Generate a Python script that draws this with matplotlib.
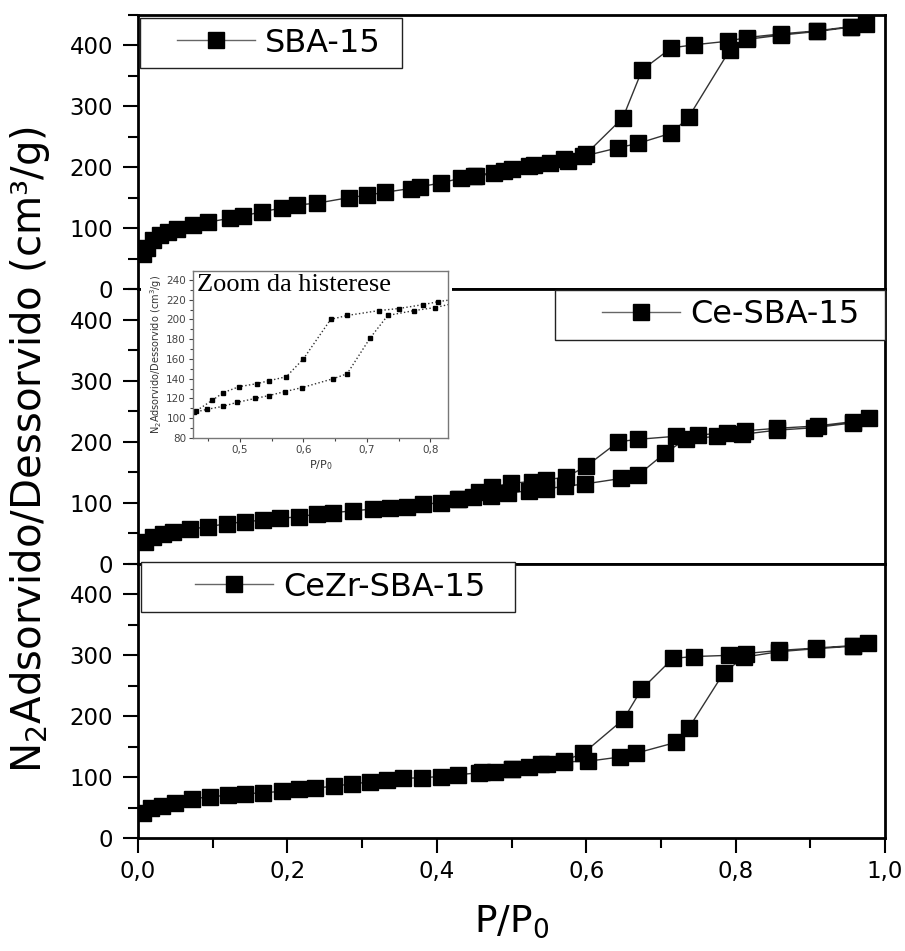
import matplotlib
matplotlib.use("Agg")
import matplotlib.pyplot as plt
from matplotlib.patches import Rectangle
from matplotlib.ticker import MultipleLocator

# SBA-15 : adsorption branch then desorption branch
sba_ads_x = [0.007, 0.012, 0.02, 0.029, 0.04, 0.052, 0.074, 0.094, 0.123, 0.141, 0.166, 0.193, 0.213,
             0.24, 0.282, 0.307, 0.331, 0.365, 0.378, 0.405, 0.432, 0.452, 0.476, 0.501, 0.524, 0.552,
             0.576, 0.596, 0.643, 0.669, 0.714, 0.737, 0.792, 0.815, 0.861, 0.909, 0.954, 0.974]
sba_ads_y = [58, 68, 80, 88, 94, 98, 105, 110, 116, 120, 127, 133, 138,
             141, 150, 154, 159, 165, 168, 174, 182, 185, 190, 197, 202, 207,
             211, 218, 232, 239, 256, 282, 392, 410, 417, 423, 430, 436]
sba_des_x = [0.954, 0.909, 0.861, 0.815, 0.79, 0.744, 0.714, 0.675, 0.649, 0.6, 0.57, 0.53, 0.49, 0.45]
sba_des_y = [431, 424, 419, 413, 407, 401, 396, 360, 281, 222, 213, 204, 194, 186]

# Ce-SBA-15
ce_ads_x = [0.009, 0.02, 0.034, 0.047, 0.07, 0.094, 0.119, 0.143, 0.168, 0.19, 0.215, 0.24, 0.261,
            0.288, 0.315, 0.338, 0.36, 0.382, 0.405, 0.428, 0.448, 0.473, 0.495, 0.524, 0.546, 0.571,
            0.598, 0.647, 0.669, 0.705, 0.733, 0.775, 0.808, 0.855, 0.905, 0.957, 0.979]
ce_ads_y = [36, 44, 49, 53, 57, 61, 66, 69, 72, 75, 77, 82, 84,
            87, 90, 92, 93, 98, 100, 106, 109, 112, 116, 120, 123, 127,
            131, 140, 145, 181, 204, 209, 212, 219, 223, 231, 239]
ce_des_x = [0.957, 0.91, 0.855, 0.813, 0.789, 0.75, 0.72, 0.669, 0.643, 0.6, 0.573, 0.546, 0.527,
            0.499, 0.474, 0.456, 0.43]
ce_des_y = [233, 226, 222, 218, 215, 211, 209, 204, 200, 160, 142, 138, 135,
            132, 126, 118, 107]

# CeZr-SBA-15
cz_ads_x = [0.007, 0.018, 0.032, 0.05, 0.072, 0.097, 0.121, 0.143, 0.168, 0.193, 0.215, 0.237, 0.262,
            0.287, 0.311, 0.333, 0.355, 0.38, 0.405, 0.429, 0.456, 0.478, 0.5, 0.524, 0.547, 0.57,
            0.602, 0.645, 0.666, 0.72, 0.737, 0.784, 0.811, 0.858, 0.908, 0.957, 0.977]
cz_ads_y = [41, 49, 53, 57, 64, 68, 70, 73, 74, 77, 80, 82, 85,
            89, 92, 95, 98, 99, 101, 104, 107, 109, 113, 117, 121, 125,
            126, 133, 139, 157, 180, 271, 297, 306, 311, 315, 320]
cz_des_x = [0.957, 0.908, 0.858, 0.814, 0.791, 0.744, 0.716, 0.674, 0.65, 0.596, 0.57, 0.54, 0.5, 0.46]
cz_des_y = [316, 312, 308, 303, 300, 298, 295, 244, 195, 139, 127, 122, 114, 108]

labels = ["SBA-15", "Ce-SBA-15", "CeZr-SBA-15"]
x_ticks = [0.0, 0.2, 0.4, 0.6, 0.8, 1.0]
x_ticklabels = ["0,0", "0,2", "0,4", "0,6", "0,8", "1,0"]
y_ticks = [0, 100, 200, 300, 400]
inset_x_ticks = [0.5, 0.6, 0.7, 0.8]
inset_x_ticklabels = ["0,5", "0,6", "0,7", "0,8"]
inset_y_ticks = [80, 100, 120, 140, 160, 180, 200, 220, 240]

plt.rcParams['font.family'] = ['DejaVu Sans']

W, H = 905, 951
fig = plt.figure(figsize=(W / 100, H / 100), dpi=100)


def fx(px):
    return px / W


def fy(py):
    return 1 - py / H


def rect(x0, y0, x1, y1):
    return [fx(x0), fy(y1), fx(x1) - fx(x0), fy(y0) - fy(y1)]


# panels: (top px, bottom px), legend handle start / centre, legend frame box
panels = [(15, 289), (289, 564), (564, 838)]
leg_anchor = [(177, 43), (602, 315), (195, 587)]
leg_frame = [(140, 18, 402, 68), (555, 290, 885, 340), (141, 562, 515, 612)]
series = [(sba_ads_x + sba_des_x, sba_ads_y + sba_des_y),
          (ce_ads_x + ce_des_x, ce_ads_y + ce_des_y),
          (cz_ads_x + cz_des_x, cz_ads_y + cz_des_y)]

axes = []
for i, (t, b) in enumerate(panels):
    ax = fig.add_axes(rect(138, t, 885, b), zorder=0)
    xs, ys = series[i]
    ax.plot(xs, ys, color='#333333', lw=1, marker='s', ms=11,
            mfc='black', mec='black', label=labels[i])
    ax.set_xlim(0, 1.0)
    ax.set_ylim(0, 450)
    ax.set_yticks(y_ticks)
    ax.yaxis.set_minor_locator(MultipleLocator(50))
    ax.tick_params(axis='y', which='major', direction='out', length=11, width=1.5,
                   labelsize=16.5, pad=7, right=False)
    ax.tick_params(axis='y', which='minor', direction='out', length=7, width=1.5, right=False)
    for s in ax.spines.values():
        s.set_linewidth(2)
    if i < 2:
        ax.tick_params(axis='x', which='both', bottom=False, labelbottom=False)
    else:
        ax.set_xticks(x_ticks)
        ax.set_xticklabels(x_ticklabels)
        ax.xaxis.set_minor_locator(MultipleLocator(0.1))
        ax.tick_params(axis='x', which='major', direction='out', length=11, width=1.5,
                       labelsize=16.5, pad=5, top=False)
        ax.tick_params(axis='x', which='minor', direction='out', length=7, width=1.5, top=False)
    x0, y0, x1, y1 = leg_frame[i]
    ax.add_patch(Rectangle((fx(x0), fy(y1)), fx(x1) - fx(x0), fy(y0) - fy(y1),
                           transform=fig.transFigure, facecolor='white', edgecolor='#222222',
                           lw=1, zorder=4, clip_on=False))
    leg = ax.legend(loc='center left', bbox_to_anchor=(fx(leg_anchor[i][0]), fy(leg_anchor[i][1])),
                    bbox_transform=fig.transFigure, frameon=False, borderpad=0, borderaxespad=0,
                    handlelength=2.44, handletextpad=0.31, fontsize=23)
    leg.get_lines()[0].set_color('#666666')
    leg.get_lines()[0].set_markerfacecolor('black')
    leg.get_lines()[0].set_markeredgecolor('black')
    axes.append(ax)

fig.text(fx(30), fy(450), "N$_2$Adsorvido/Dessorvido (cm³/g)", rotation=90,
         ha='center', va='center', fontsize=29)
fig.text(fx(512), fy(922), "P/P$_0$", ha='center', va='center', fontsize=27)

# white backing of the inset picture
fig.add_artist(Rectangle((fx(141), fy(480)), fx(452) - fx(141), fy(268) - fy(480),
                         transform=fig.transFigure, facecolor='white', edgecolor='none', zorder=1))

axi = fig.add_axes(rect(193, 271, 448, 438), zorder=2)
axi.plot(ce_ads_x + ce_des_x, ce_ads_y + ce_des_y, ls=':', color='#333333', lw=1,
         marker='s', ms=3.5, mfc='black', mec='black')
axi.set_xlim(0.426, 0.828)
axi.set_ylim(80, 249)
axi.set_xticks(inset_x_ticks)
axi.set_xticklabels(inset_x_ticklabels)
axi.set_yticks(inset_y_ticks)
axi.xaxis.set_minor_locator(MultipleLocator(0.05))
axi.yaxis.set_minor_locator(MultipleLocator(10))
axi.tick_params(which='major', direction='out', length=3, width=0.8, labelsize=7.5,
                colors='#444444', pad=2)
axi.tick_params(which='minor', direction='out', length=2, width=0.8, colors='#444444')
for s in axi.spines.values():
    s.set_color('#777777')
    s.set_linewidth(1)
axi.set_ylabel("N$_2$Adsorvido/Dessorvido (cm$^3$/g)", fontsize=7, labelpad=2, color='#333333')
axi.set_xlabel("P/P$_0$", fontsize=8, labelpad=2, color='#333333')
axi.text(0.015, 0.985, "Zoom da histerese", transform=axi.transAxes, ha='left', va='top',
         fontsize=19, family=['Liberation Serif', 'DejaVu Serif'])

fig.savefig("out.png", dpi=100)
